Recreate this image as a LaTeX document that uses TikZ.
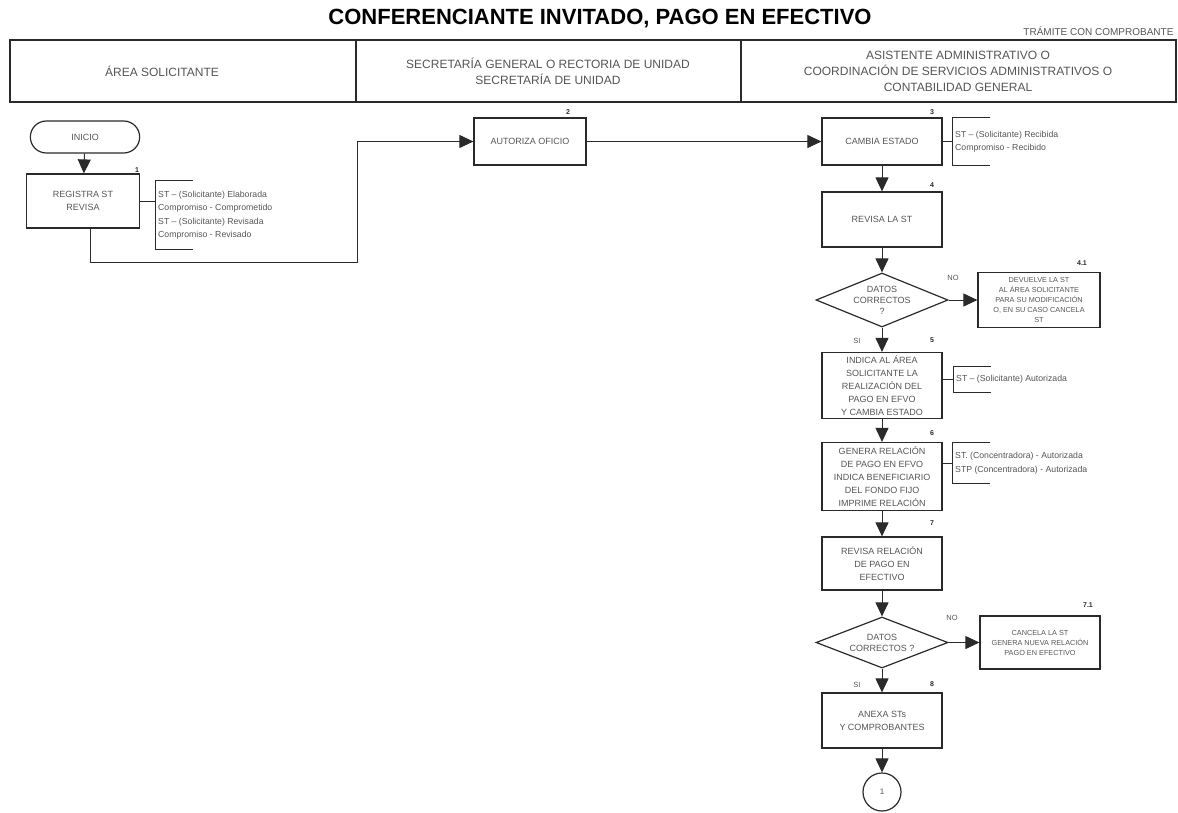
\documentclass[tikz,border=0pt]{standalone}
\usepackage{fontspec}
\setmainfont{Liberation Sans}
\usetikzlibrary{arrows.meta,shapes.geometric,shapes.misc,calc}

\definecolor{ink}{HTML}{2A2A2A}
\definecolor{txt}{HTML}{555555}

\tikzset{
  every node/.style={text=txt},
  proc/.style={draw=ink, line width=1.2pt, minimum width=120pt, minimum height=55pt,
    align=center, inner sep=2pt, font=\fontsize{9}{12.9}\selectfont},
  term/.style={draw=ink, line width=1.2pt, rounded rectangle, minimum width=116pt,
    minimum height=32pt, font=\fontsize{9}{11}\selectfont},
  decis/.style={draw=ink, line width=1.2pt, diamond, minimum width=132pt,
    minimum height=54pt, inner sep=0pt},
  dectext/.style={align=center, font=\fontsize{9}{11}\selectfont},
  smallproc/.style={proc, font=\fontsize{7.3}{10}\selectfont},
  flow/.style={draw=ink, line width=1pt, -{Triangle[width=13pt,length=14pt]}},
  link/.style={draw=ink, line width=1pt},
  note/.style={anchor=west, align=left, inner sep=3pt, font=\fontsize{8.7}{13.5}\selectfont},
  stepnum/.style={font=\bfseries\fontsize{7}{8}\selectfont, text=ink},
  lbl/.style={font=\fontsize{7.5}{9}\selectfont},
  hdr/.style={align=center, font=\fontsize{12}{16}\selectfont},
}

% bracket drawn on the left side of an annotation node
\newcommand{\notebracket}[1]{%
  \draw[link] ($(#1.north west)+(38,0)$) -- (#1.north west) -- (#1.south west) -- ++(38,0);}

\begin{document}
\begin{tikzpicture}[x=1pt,y=-1pt]
\useasboundingbox (0,0) rectangle (1178,812);

% title and header row
\node[font=\bfseries\fontsize{22}{24}\selectfont, text=black] (title) at (600,19)
  {CONFERENCIANTE INVITADO, PAGO EN EFECTIVO};
\node[anchor=east, font=\fontsize{10}{12}\selectfont] (tramite) at (1177,31)
  {TRÁMITE CON COMPROBANTE};

\draw[ink, line width=1.3pt] (10,40) rectangle (1176,102);
\draw[ink, line width=1.3pt] (356,40) -- (356,102);
\draw[ink, line width=1.3pt] (741,40) -- (741,102);
\node[hdr] (h1) at (162,71) {ÁREA SOLICITANTE};
\node[hdr] (h2) at (548,71) {SECRETARÍA GENERAL O RECTORIA DE UNIDAD\\SECRETARÍA DE UNIDAD};
\node[hdr] (h3) at (958,71) {ASISTENTE ADMINISTRATIVO O\\COORDINACIÓN DE SERVICIOS ADMINISTRATIVOS O\\CONTABILIDAD GENERAL};

% requesting area
\node[term] (inicio) at (85,137) {INICIO};
\node[proc, minimum width=113pt, minimum height=54pt] (b1) at (83,201) {REGISTRA ST\\REVISA};
\node[stepnum] (n1) at (137,170) {1};
\draw[flow] (inicio) -- (b1);
\node[note, minimum height=68pt] (a1) at (155,215)
  {ST – (Solicitante) Elaborada\\Compromiso - Comprometido\\ST – (Solicitante) Revisada\\Compromiso - Revisado};
\notebracket{a1}
\draw[link] (b1.east) -- (b1.east -| a1.west);

% general secretariat
\coordinate (j1) at (357,262);
\node[proc, minimum width=112pt, minimum height=47pt] (auth) at (530,141.5) {AUTORIZA OFICIO};
\node[stepnum] (n2) at (568,112) {2};
\draw[flow] ([xshift=7pt]b1.south) |- (j1) |- (auth.west);

% administrative assistant
\node[proc, minimum height=47pt] (cambia) at (882,141.5) {CAMBIA ESTADO};
\node[stepnum] (n3) at (932,112) {3};
\draw[flow] (auth) -- (cambia);
\node[note, minimum height=47pt] (a3) at (952,141.5)
  {ST – (Solicitante) Recibida\\Compromiso - Recibido};
\notebracket{a3}
\draw[link] (cambia.east) -- (a3.west);

\node[proc] (revisa) at (882,219.5) {REVISA LA ST};
\node[stepnum] (n4) at (932,185) {4};
\draw[flow] (cambia) -- (revisa);

\node[decis] (d1) at (882,300) {};
\node[dectext] (d1t) at (d1) {DATOS\\CORRECTOS\\?};
\draw[flow] (revisa) -- (d1);

\node[smallproc, minimum width=122pt, minimum height=55pt] (b41) at (1039,300)
  {DEVUELVE LA ST\\AL ÁREA SOLICITANTE\\PARA SU MODIFICACIÓN\\O, EN SU CASO CANCELA\\ST};
\node[stepnum] (n41) at (1082,263) {4.1};
\node[lbl] (no1) at (953,278) {NO};
\draw[flow] (d1.east) -- (b41.west);

\node[proc, minimum height=66pt] (b5) at (882,385.5)
  {INDICA AL ÁREA\\SOLICITANTE LA\\REALIZACIÓN DEL\\PAGO EN EFVO\\Y CAMBIA ESTADO};
\node[lbl] (si1) at (857,341) {SI};
\node[stepnum] (n5) at (932,340) {5};
\draw[flow] (d1.south) -- (b5.north);
\node[note, minimum height=25pt] (a5) at (953,379.5) {ST – (Solicitante) Autorizada};
\notebracket{a5}
\draw[link] (b5.east |- a5.west) -- (a5.west);

\node[proc, minimum height=68pt] (b6) at (882,476.5)
  {GENERA RELACIÓN\\DE PAGO EN EFVO\\INDICA BENEFICIARIO\\DEL FONDO FIJO\\IMPRIME RELACIÓN};
\node[stepnum] (n6) at (932,433) {6};
\draw[flow] (b5) -- (b6);
\node[note, minimum height=40pt] (a6) at (952,463)
  {ST. (Concentradora) - Autorizada\\STP (Concentradora) - Autorizada};
\notebracket{a6}
\draw[link] (b6.east |- a6.west) -- (a6.west);

\node[proc, minimum height=53pt] (b7) at (882,563.5) {REVISA RELACIÓN\\DE PAGO EN\\EFECTIVO};
\node[stepnum] (n7) at (932,523) {7};
\draw[flow] (b6) -- (b7);

\node[decis, minimum height=51pt] (d2) at (882,642.5) {};
\node[dectext] (d2t) at (d2) {DATOS\\CORRECTOS ?};
\draw[flow] (b7) -- (d2);

\node[smallproc, minimum width=120pt, minimum height=53pt] (b71) at (1040,642.5)
  {CANCELA LA ST\\GENERA NUEVA RELACIÓN\\PAGO EN EFECTIVO};
\node[stepnum] (n71) at (1088,605) {7.1};
\node[lbl] (no2) at (952,618) {NO};
\draw[flow] (d2.east) -- (b71.west);

\node[proc, minimum height=55pt] (b8) at (882,720.5) {ANEXA STs\\Y COMPROBANTES};
\node[lbl] (si2) at (857,685) {SI};
\node[stepnum] (n8) at (932,684) {8};
\draw[flow] (d2.south) -- (b8.north);

\node[draw=ink, line width=1.2pt, circle, minimum size=38pt, inner sep=0pt,
  font=\fontsize{8}{9}\selectfont] (con1) at (882,792) {1};
\draw[flow] (b8) -- (con1);
\end{tikzpicture}
\end{document}
